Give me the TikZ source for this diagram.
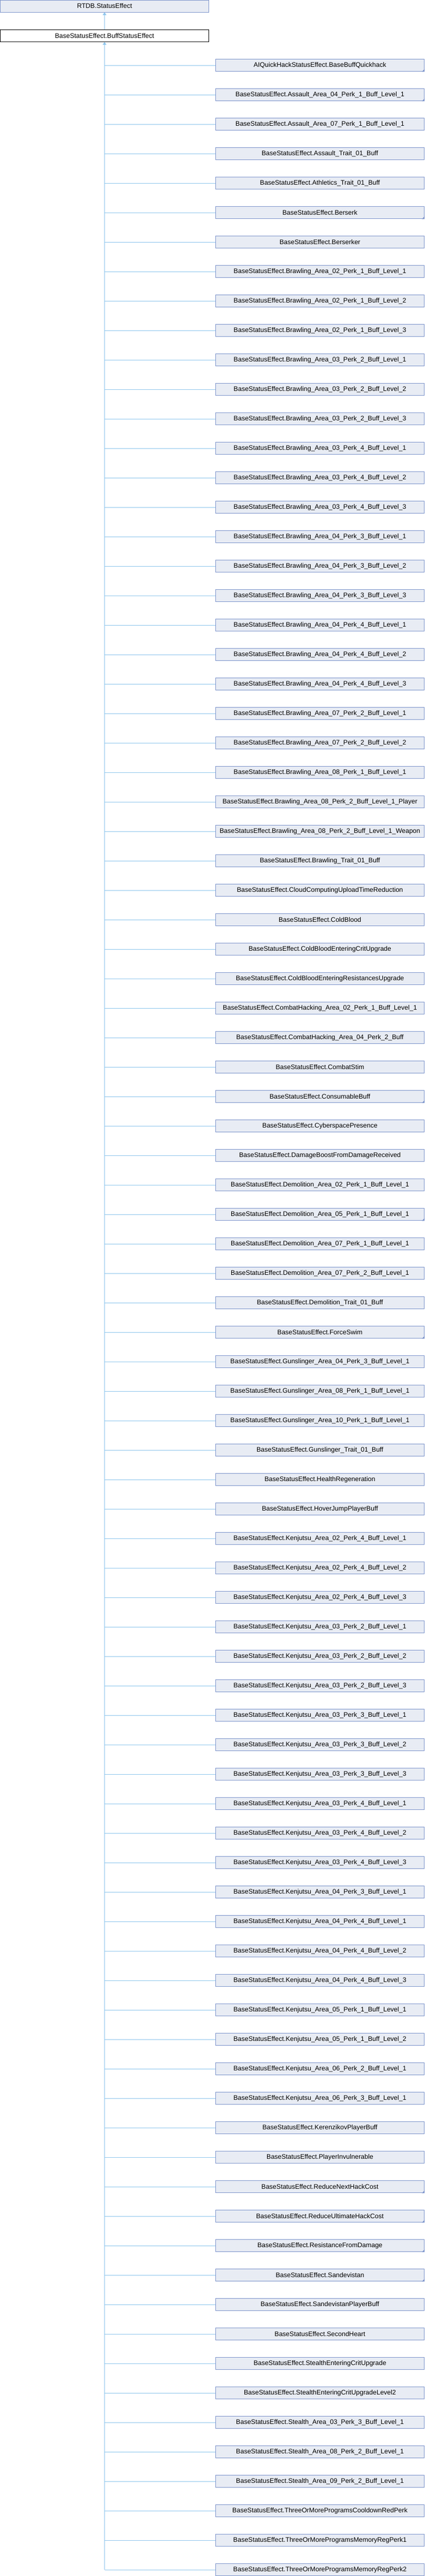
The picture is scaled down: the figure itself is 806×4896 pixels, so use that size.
\documentclass[tikz,border=0pt]{standalone}
\usepackage{fontspec}
\setmainfont{Liberation Sans}
\usetikzlibrary{arrows.meta}
\definecolor{boxfill}{HTML}{E8ECF4}
\definecolor{boxline}{HTML}{7A92CA}
\definecolor{edgeblue}{HTML}{8DC5EC}

\begin{document}
\begin{tikzpicture}
  [x=1pt,y=-1pt,
   cls/.style={draw=boxline,fill=boxfill,line width=1pt,minimum width=396pt,
     minimum height=23pt,inner sep=0pt,font=\fontsize{12.5}{14}\selectfont},
   edge/.style={draw=edgeblue,line width=1pt},
   inh/.style={edge,-{Triangle[length=5pt,width=7pt]},fill=edgeblue}]
  \useasboundingbox (0,0) rectangle (806,4896);

  \node[cls] (rtdb) at (198.5,11.5) {RTDB.StatusEffect};
  \node[cls,fill=white,draw=black] (buff) at (198.5,68) {BaseStatusEffect.BuffStatusEffect};
  \draw[inh] (buff.north) -- (rtdb.south);

  \node[cls] (c1) at (607.5,124.3) {AIQuickHackStatusEffect.BaseBuffQuickhack};
  \foreach \nm [count=\i from 2] in {
    Assault\_Area\_04\_Perk\_1\_Buff\_Level\_1,
    Assault\_Area\_07\_Perk\_1\_Buff\_Level\_1,
    Assault\_Trait\_01\_Buff,
    Athletics\_Trait\_01\_Buff,
    Berserk,
    Berserker,
    Brawling\_Area\_02\_Perk\_1\_Buff\_Level\_1,
    Brawling\_Area\_02\_Perk\_1\_Buff\_Level\_2,
    Brawling\_Area\_02\_Perk\_1\_Buff\_Level\_3,
    Brawling\_Area\_03\_Perk\_2\_Buff\_Level\_1,
    Brawling\_Area\_03\_Perk\_2\_Buff\_Level\_2,
    Brawling\_Area\_03\_Perk\_2\_Buff\_Level\_3,
    Brawling\_Area\_03\_Perk\_4\_Buff\_Level\_1,
    Brawling\_Area\_03\_Perk\_4\_Buff\_Level\_2,
    Brawling\_Area\_03\_Perk\_4\_Buff\_Level\_3,
    Brawling\_Area\_04\_Perk\_3\_Buff\_Level\_1,
    Brawling\_Area\_04\_Perk\_3\_Buff\_Level\_2,
    Brawling\_Area\_04\_Perk\_3\_Buff\_Level\_3,
    Brawling\_Area\_04\_Perk\_4\_Buff\_Level\_1,
    Brawling\_Area\_04\_Perk\_4\_Buff\_Level\_2,
    Brawling\_Area\_04\_Perk\_4\_Buff\_Level\_3,
    Brawling\_Area\_07\_Perk\_2\_Buff\_Level\_1,
    Brawling\_Area\_07\_Perk\_2\_Buff\_Level\_2,
    Brawling\_Area\_08\_Perk\_1\_Buff\_Level\_1,
    Brawling\_Area\_08\_Perk\_2\_Buff\_Level\_1\_Player,
    Brawling\_Area\_08\_Perk\_2\_Buff\_Level\_1\_Weapon,
    Brawling\_Trait\_01\_Buff,
    CloudComputingUploadTimeReduction,
    ColdBlood,
    ColdBloodEnteringCritUpgrade,
    ColdBloodEnteringResistancesUpgrade,
    CombatHacking\_Area\_02\_Perk\_1\_Buff\_Level\_1,
    CombatHacking\_Area\_04\_Perk\_2\_Buff,
    CombatStim,
    ConsumableBuff,
    CyberspacePresence,
    DamageBoostFromDamageReceived,
    Demolition\_Area\_02\_Perk\_1\_Buff\_Level\_1,
    Demolition\_Area\_05\_Perk\_1\_Buff\_Level\_1,
    Demolition\_Area\_07\_Perk\_1\_Buff\_Level\_1,
    Demolition\_Area\_07\_Perk\_2\_Buff\_Level\_1,
    Demolition\_Trait\_01\_Buff,
    ForceSwim,
    Gunslinger\_Area\_04\_Perk\_3\_Buff\_Level\_1,
    Gunslinger\_Area\_08\_Perk\_1\_Buff\_Level\_1,
    Gunslinger\_Area\_10\_Perk\_1\_Buff\_Level\_1,
    Gunslinger\_Trait\_01\_Buff,
    HealthRegeneration,
    HoverJumpPlayerBuff,
    Kenjutsu\_Area\_02\_Perk\_4\_Buff\_Level\_1,
    Kenjutsu\_Area\_02\_Perk\_4\_Buff\_Level\_2,
    Kenjutsu\_Area\_02\_Perk\_4\_Buff\_Level\_3,
    Kenjutsu\_Area\_03\_Perk\_2\_Buff\_Level\_1,
    Kenjutsu\_Area\_03\_Perk\_2\_Buff\_Level\_2,
    Kenjutsu\_Area\_03\_Perk\_2\_Buff\_Level\_3,
    Kenjutsu\_Area\_03\_Perk\_3\_Buff\_Level\_1,
    Kenjutsu\_Area\_03\_Perk\_3\_Buff\_Level\_2,
    Kenjutsu\_Area\_03\_Perk\_3\_Buff\_Level\_3,
    Kenjutsu\_Area\_03\_Perk\_4\_Buff\_Level\_1,
    Kenjutsu\_Area\_03\_Perk\_4\_Buff\_Level\_2,
    Kenjutsu\_Area\_03\_Perk\_4\_Buff\_Level\_3,
    Kenjutsu\_Area\_04\_Perk\_3\_Buff\_Level\_1,
    Kenjutsu\_Area\_04\_Perk\_4\_Buff\_Level\_1,
    Kenjutsu\_Area\_04\_Perk\_4\_Buff\_Level\_2,
    Kenjutsu\_Area\_04\_Perk\_4\_Buff\_Level\_3,
    Kenjutsu\_Area\_05\_Perk\_1\_Buff\_Level\_1,
    Kenjutsu\_Area\_05\_Perk\_1\_Buff\_Level\_2,
    Kenjutsu\_Area\_06\_Perk\_2\_Buff\_Level\_1,
    Kenjutsu\_Area\_06\_Perk\_3\_Buff\_Level\_1,
    KerenzikovPlayerBuff,
    PlayerInvulnerable,
    ReduceNextHackCost,
    ReduceUltimateHackCost,
    ResistanceFromDamage,
    Sandevistan,
    SandevistanPlayerBuff,
    SecondHeart,
    StealthEnteringCritUpgrade,
    StealthEnteringCritUpgradeLevel2,
    Stealth\_Area\_03\_Perk\_3\_Buff\_Level\_1,
    Stealth\_Area\_08\_Perk\_2\_Buff\_Level\_1,
    Stealth\_Area\_09\_Perk\_2\_Buff\_Level\_1,
    ThreeOrMoreProgramsCooldownRedPerk,
    ThreeOrMoreProgramsMemoryRegPerk1,
    ThreeOrMoreProgramsMemoryRegPerk2}
  {\node[cls] (c\i) at (607.5,{124.3+56*(\i-1)}) {BaseStatusEffect.\nm};}

  \draw[inh] (buff.south |- c86.west) -- (buff.south);
  \foreach \i in {1,...,86}
  {\draw[edge] (buff.south |- c\i.west) -- (c\i.west);}

  % corner marks
  \foreach \i in {1,2,6,36,40,44,73,74,75,76}
  {\fill[boxline] (c\i.south east) -- ++(-5,0) -- ++(5,-5) -- cycle;}
\end{tikzpicture}
\end{document}
